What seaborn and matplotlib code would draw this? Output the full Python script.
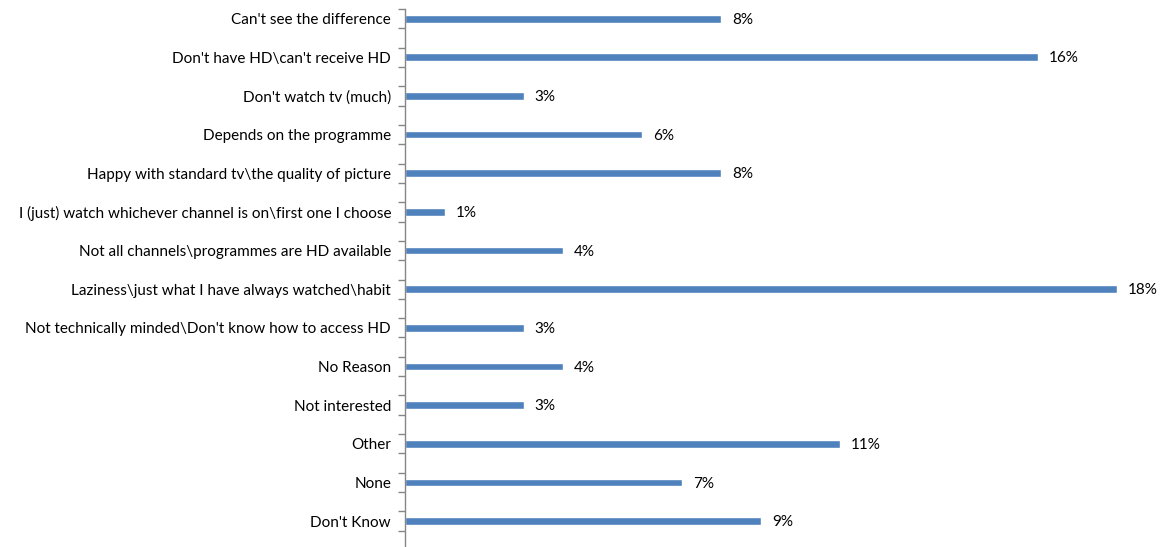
import matplotlib
matplotlib.use("Agg")
import matplotlib.pyplot as plt
import seaborn as sns
import pandas as pd
from matplotlib.ticker import FixedLocator

reasons = [
    "Can't see the difference",
    "Don't have HD\\can't receive HD",
    "Don't watch tv (much)",
    "Depends on the programme",
    "Happy with standard tv\\the quality of picture",
    "I (just) watch whichever channel is on\\first one I choose",
    "Not all channels\\programmes are HD available",
    "Laziness\\just what I have always watched\\habit",
    "Not technically minded\\Don't know how to access HD",
    "No Reason",
    "Not interested",
    "Other",
    "None",
    "Don't Know",
]
percent = [8, 16, 3, 6, 8, 1, 4, 18, 3, 4, 3, 11, 7, 9]

df = pd.DataFrame({"reason": reasons, "percent": percent})

sns.set_theme(style="white")
plt.rcParams["font.family"] = ["Lato", "DejaVu Sans"]

fig = plt.figure(figsize=(11.63, 5.47), dpi=100)
ax = fig.add_axes([405 / 1163, 0.0, 1 - 405 / 1163, 1 - 9 / 547])

sns.barplot(data=df, x="percent", y="reason", orient="h", color="#4F81BD",
            saturation=1, width=0.2, ax=ax)

n = len(reasons)
ax.set_xlim(0, 758 / 39.56)
ax.set_ylim(n - 1 + 26 / 38.7, -0.25)

# value labels just past each bar end
for i, v in enumerate(percent):
    ax.text(v + 11 / 39.56, i + 0.03, f"{v}%", va="center", ha="left",
            fontsize=11, color="#000000")

ax.set_xlabel("")
ax.set_ylabel("")
ax.set_xticks([])
for s in ["top", "right", "bottom"]:
    ax.spines[s].set_visible(False)
ax.spines["left"].set_color("#868686")
ax.spines["left"].set_linewidth(1)

# category labels on the bars, small tick marks between half-rows
ax.tick_params(axis="y", which="major", length=0, pad=10, labelsize=11,
               labelcolor="#000000")
minor = sorted([i - 0.25 for i in range(n)] + [i + 0.25 for i in range(n)])
ax.yaxis.set_minor_locator(FixedLocator(minor))
ax.tick_params(axis="y", which="minor", length=5, width=1, color="#868686",
               direction="out", left=True)

fig.savefig("out.png", dpi=100)
